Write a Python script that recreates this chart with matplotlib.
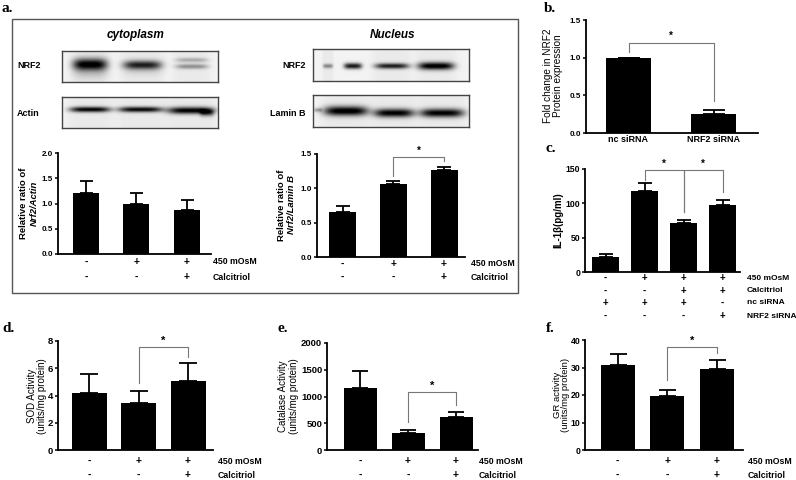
import numpy as np
import matplotlib
matplotlib.use('Agg')
import matplotlib.pyplot as plt
from matplotlib.patches import Rectangle

plt.rcParams['font.family'] = ['Liberation Sans', 'DejaVu Sans']

W, H = 796, 480

# ---------------- data ----------------
osm_3 = ['-', '+', '+']          # 450 mOsM
calc_3 = ['-', '-', '+']         # Calcitriol

cyto_ratio = [1.20, 1.00, 0.87]
cyto_ratio_upper = [1.45, 1.21, 1.06]

nuc_ratio = [0.66, 1.06, 1.26]
nuc_ratio_upper = [0.74, 1.10, 1.31]

sirna_groups = ['nc siRNA', 'NRF2 siRNA']
nrf2_fold = [1.00, 0.25]
nrf2_fold_upper = [1.00, 0.31]

il1b_osm = ['-', '+', '+', '+']
il1b_calc = ['-', '-', '+', '+']
il1b_nc = ['+', '+', '+', '-']
il1b_si = ['-', '-', '-', '+']
il1b = [22, 118, 71, 97]
il1b_upper = [26, 129, 76, 105]

sod = [4.2, 3.45, 5.05]
sod_upper = [5.55, 4.3, 6.35]
catalase = [1160, 310, 615]
catalase_upper = [1480, 375, 710]
gr = [31.0, 19.5, 29.5]
gr_upper = [34.8, 22.0, 32.7]

# significance brackets: (bar i, bar j, bracket level, left end, right end)
sig_nuc = [(1, 2, 1.45, 1.18, 1.40)]
sig_b = [(0, 1, 1.20, 1.07, 0.43)]
sig_c = [(1, 2, 148, 134, 87), (2, 3, 148, 87, 116)]
sig_d = [(1, 2, 7.55, 4.95, 6.85)]
sig_e = [(1, 2, 1084, 523, 841)]
sig_f = [(1, 2, 37.3, 25.3, 35.4)]

# western blot band intensities per lane (0 = none, 1 = saturated)
cyto_nrf2_bands = [0.97, 0.80, 0.35]
cyto_actin_bands = [0.90, 0.88, 0.93]
nuc_nrf2_bands = [0.85, 0.80, 0.97]
nuc_lamin_bands = [0.97, 0.93, 0.93]

# ---------------- figure ----------------
fig = plt.figure(figsize=(W / 100, H / 100), dpi=100)


def px_axes(x0, y0, x1, y1):
    return fig.add_axes([x0 / W, 1 - y1 / H, (x1 - x0) / W, (y1 - y0) / H])


def ftext(x, y, s, **kw):
    kw.setdefault('ha', 'center')
    kw.setdefault('va', 'center')
    return fig.text(x / W, 1 - y / H, s, **kw)


def bar_panel(spine_x, end_x, base_y, top_y, ymax, yticks, first_c, step,
              width_px, vals, upper, tick_fs=6.5, fmt='{:g}'):
    ax = px_axes(spine_x, top_y, end_x, base_y)
    n = len(vals)
    x = np.arange(n)
    ax.set_xlim((spine_x - first_c) / step, (end_x - first_c) / step)
    ax.set_ylim(0, ymax)
    ax.bar(x, vals, width=width_px / step, color='black', zorder=2)
    yerr = [np.zeros(n), np.array(upper) - np.array(vals)]
    ax.errorbar(x, vals, yerr=yerr, fmt='none', ecolor='black',
                elinewidth=1.3, capsize=width_px * 0.25 * 0.72,
                capthick=1.3, zorder=1)
    for s in ['top', 'right']:
        ax.spines[s].set_visible(False)
    for s in ['left', 'bottom']:
        ax.spines[s].set_linewidth(1.3)
    ax.set_xticks([])
    ax.set_yticks(yticks)
    ax.set_yticklabels([fmt.format(t) for t in yticks], fontsize=tick_fs,
                       fontweight='bold')
    ax.tick_params(axis='y', direction='out', length=2.5, width=1.1, pad=1)
    ax.patch.set_visible(False)
    return ax


def rows(ax, row_vals, row_names, ys, name_x, fs=6.3):
    for vals, name, y in zip(row_vals, row_names, ys):
        for i, v in enumerate(vals):
            ax.annotate(v, xy=(i, H - y), xycoords=('data', 'figure pixels'),
                        ha='center', va='center', fontsize=fs + 1,
                        fontweight='bold')
        ftext(name_x, y, name, ha='left', fontsize=fs, fontweight='bold')


def brackets(ax, specs, star_fs=8):
    for i, j, yb, yl, yr in specs:
        ax.plot([i, i, j, j], [yl, yb, yb, yr], color='#777777', lw=0.8,
                clip_on=False, zorder=3)
        ax.annotate('*', xy=((i + j) / 2, yb), xytext=(0, 1),
                    textcoords='offset points', ha='center', va='bottom',
                    fontsize=star_fs, fontweight='bold', annotation_clip=False)


def blot(x0, y0, x1, y1, specs, lane_int):
    ax = px_axes(x0, y0, x1, y1)
    w = int(round(x1 - x0))
    h = int(round(y1 - y0))
    xx, yy = np.meshgrid(np.arange(w) + x0 + 0.5, np.arange(h) + y0 + 0.5)
    dark = np.full((h, w), 0.05)
    lane_centers = {}
    for lane, xc, hw, yc, hh, wgt in specs:
        lane_centers.setdefault(lane, (xc, hw))
        dark += lane_int[lane] * wgt * np.exp(-(np.abs(xx - xc) / hw) ** 4) \
            * np.exp(-((yy - yc) / hh) ** 2)
    for lane, (xc, hw) in lane_centers.items():
        dark += 0.035 * np.exp(-(np.abs(xx - xc) / (hw * 1.15)) ** 6)
    ax.imshow(1 - np.clip(dark, 0, 1), cmap='gray', vmin=0, vmax=1,
              extent=(x0, x1, y1, y0), interpolation='bilinear', aspect='auto')
    ax.set_xticks([])
    ax.set_yticks([])
    for s in ax.spines.values():
        s.set_linewidth(1.0)
        s.set_color('#444444')
    return ax


# ---------------- panel a frame ----------------
fig.add_artist(Rectangle((12 / W, 1 - 293 / H), (518 - 12) / W, (293 - 19) / H,
                         transform=fig.transFigure, fill=False,
                         ec='#555555', lw=1.0))

letter_kw = dict(family=['Liberation Serif', 'DejaVu Serif'],
                 fontweight='bold', fontsize=11, ha='left', va='center')
ftext(2, 8, 'a.', **letter_kw)
ftext(544, 8, 'b.', **letter_kw)
ftext(545, 149, 'c.', **letter_kw)
ftext(2, 329, 'd.', **letter_kw)
ftext(278, 329, 'e.', **letter_kw)
ftext(546, 329, 'f.', **letter_kw)

title_kw = dict(fontsize=8.5, fontweight='bold', style='italic')
ftext(136, 35, 'cytoplasm', **title_kw)
ftext(393, 35, 'Nucleus', **title_kw)

lab_kw = dict(fontsize=6.5, fontweight='bold', ha='left')
ftext(17, 66, 'NRF2', **lab_kw)
ftext(17, 113, 'Actin', **lab_kw)
ftext(306, 66, 'NRF2', fontsize=6.5, fontweight='bold', ha='right')
ftext(306, 113, 'Lamin B', fontsize=6.5, fontweight='bold', ha='right')

# blots (lane, x centre, half width, y centre, half height, weight)
blot(62, 51, 218, 82,
     [(0, 90, 17, 64.5, 6.0, 1.0), (0, 90, 17, 74, 6, 0.12),
      (1, 142, 19, 65, 4.5, 1.0), (1, 142, 19, 72, 5, 0.08),
      (2, 191, 16, 60, 2.3, 0.7), (2, 191, 16, 66.5, 2.5, 1.0)],
     cyto_nrf2_bands)
blot(62, 97, 218, 128,
     [(0, 90, 20, 109.5, 2.8, 1.0), (1, 140, 22, 109.5, 2.8, 1.0),
      (2, 190, 23, 110.5, 3.5, 1.0), (2, 206, 7, 113, 3.5, 0.5)],
     cyto_actin_bands)
blot(313, 49, 469, 81,
     [(0, 328, 5, 66, 2.3, 0.45), (0, 353, 9, 66, 3.0, 1.0),
      (1, 392, 17, 66, 2.8, 1.0), (2, 436, 18, 66, 3.8, 1.0)],
     nuc_nrf2_bands)
blot(313, 95, 469, 127,
     [(0, 346, 22, 111, 4.8, 1.0), (0, 318, 4, 110, 2, 0.3),
      (1, 394, 20, 113, 4.3, 1.0), (2, 442, 22, 113, 4.3, 1.0)],
     nuc_lamin_bands)

# cytoplasm chart
ax = bar_panel(58, 211, 254, 153, 2.0, [0.0, 0.5, 1.0, 1.5, 2.0], 86, 50.25,
               26, cyto_ratio, cyto_ratio_upper, tick_fs=5.8, fmt='{:.1f}')
rows(ax, [osm_3, calc_3], ['450 mOsM', 'Calcitriol'], [262, 277], 213)
ftext(24, 203, 'Relative ratio of', rotation=90, fontsize=6.8, fontweight='bold')
ftext(34, 203, 'Nrf2/Actin', rotation=90, fontsize=6.8, fontweight='bold',
      style='italic')

# nucleus chart
ax = bar_panel(317, 465, 257, 154, 1.5, [0.0, 0.5, 1.0, 1.5], 342.5, 50.75,
               27, nuc_ratio, nuc_ratio_upper, tick_fs=5.8, fmt='{:.1f}')
rows(ax, [osm_3, calc_3], ['450 mOsM', 'Calcitriol'], [264, 277], 471)
brackets(ax, sig_nuc, star_fs=7)
ftext(281, 205, 'Relative ratio of', rotation=90, fontsize=6.8, fontweight='bold')
ftext(291, 205, 'Nrf2/Lamin B', rotation=90, fontsize=6.8, fontweight='bold',
      style='italic')

# panel b
ax = bar_panel(586, 758, 133, 20, 1.5, [0.0, 0.5, 1.0, 1.5], 628.5, 85,
               45, nrf2_fold, nrf2_fold_upper, tick_fs=5.8, fmt='{:.1f}')
for i, g in enumerate(sirna_groups):
    ax.annotate(g, xy=(i, H - 140), xycoords=('data', 'figure pixels'),
                ha='center', va='center', fontsize=6.5, fontweight='bold')
brackets(ax, sig_b, star_fs=7)
ftext(548, 76, 'Fold change in NRF2', rotation=90, fontsize=7.2)
ftext(558, 76, 'Protein expression', rotation=90, fontsize=7.2)

# panel c
ax = bar_panel(585, 740, 272, 169, 150, [0, 50, 100, 150], 605.5, 39,
               27, il1b, il1b_upper, tick_fs=6.2)
rows(ax, [il1b_osm, il1b_calc, il1b_nc, il1b_si],
     ['450 mOsM', 'Calcitriol', 'nc siRNA', 'NRF2 siRNA'],
     [278, 291, 303, 316], 747, fs=6.0)
brackets(ax, sig_c, star_fs=7)
ftext(558, 220, 'IL-1β(pg/ml)', rotation=90, fontsize=7, fontweight='bold')

# panel d
ax = bar_panel(58, 213, 450, 341, 8, [0, 2, 4, 6, 8], 89, 49.5,
               35, sod, sod_upper, tick_fs=6.8)
rows(ax, [osm_3, calc_3], ['450 mOsM', 'Calcitriol'], [461, 475], 218)
brackets(ax, sig_d, star_fs=8)
ftext(32, 396, 'SOD Activity', rotation=90, fontsize=7)
ftext(42, 396, '(units/mg protein)', rotation=90, fontsize=7)

# panel e
ax = bar_panel(327, 478, 450, 343, 2000, [0, 500, 1000, 1500, 2000], 360, 48,
               33, catalase, catalase_upper, tick_fs=6.8)
rows(ax, [osm_3, calc_3], ['450 mOsM', 'Calcitriol'], [461, 475], 479)
brackets(ax, sig_e, star_fs=8)
ftext(283, 396, 'Catalase Activity', rotation=90, fontsize=7)
ftext(294, 396, '(units/mg protein)', rotation=90, fontsize=7)

# panel f
ax = bar_panel(585, 743, 450, 340, 40, [0, 10, 20, 30, 40], 617.5, 49.75,
               34, gr, gr_upper, tick_fs=6.3)
rows(ax, [osm_3, calc_3], ['450 mOsM', 'Calcitriol'], [461, 475], 748)
brackets(ax, sig_f, star_fs=8)
ftext(557, 395, 'GR activity', rotation=90, fontsize=6.8)
ftext(566, 395, '(units/mg protein)', rotation=90, fontsize=6.8)

fig.savefig('out.png', dpi=100)
